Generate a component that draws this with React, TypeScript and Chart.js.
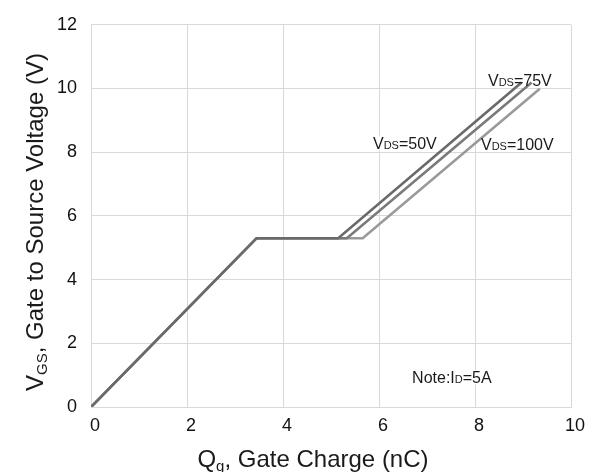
import React, { useEffect, useRef } from "react";
import { Chart, registerables } from "chart.js";
Chart.register(...registerables);

// ---- data ----
const xTicks = [0, 2, 4, 6, 8, 10];
const yTicks = [0, 2, 4, 6, 8, 10, 12];
const qg50 = [0, 3.45, 5.15, 8.97];
const vgs50 = [0, 5.3, 5.3, 10.19];
const qg75 = [0, 3.45, 5.33, 9.18];
const vgs75 = [0, 5.3, 5.3, 10.19];
const qg100 = [0, 3.45, 5.66, 9.35];
const vgs100 = [0, 5.3, 5.3, 9.99];

type Part = { t: string; s: number; dy?: number };
const FONT = "'Liberation Sans', Arial, Helvetica, sans-serif";

const annotations: { x: number; y: number; parts: Part[] }[] = [
  { x: 8.27, y: 10.09, parts: [{ t: "V", s: 16 }, { t: "DS", s: 11 }, { t: "=75V", s: 16 }] },
  { x: 5.875, y: 8.09, parts: [{ t: "V", s: 16 }, { t: "DS", s: 11 }, { t: "=50V", s: 16 }] },
  { x: 8.125, y: 8.06, parts: [{ t: "V", s: 16 }, { t: "DS", s: 11 }, { t: "=100V", s: 16 }] },
  { x: 6.69, y: 0.74, parts: [{ t: "Note:I", s: 16 }, { t: "D", s: 11 }, { t: "=5A", s: 16 }] },
];

const yTitle: Part[] = [
  { t: "V", s: 24 },
  { t: "GS", s: 15, dy: 4 },
  { t: ", Gate to Source Voltage (V)", s: 24 },
];
const xTitle: Part[] = [
  { t: "Q", s: 24 },
  { t: "g", s: 15, dy: 4 },
  { t: ", Gate Charge (nC)", s: 24 },
];

function measure(ctx: CanvasRenderingContext2D, parts: Part[]) {
  let w = 0;
  for (const p of parts) {
    ctx.font = `${p.s}px ${FONT}`;
    w += ctx.measureText(p.t).width;
  }
  return w;
}

function drawParts(ctx: CanvasRenderingContext2D, parts: Part[], x: number, y: number) {
  let cx = x;
  for (const p of parts) {
    ctx.font = `${p.s}px ${FONT}`;
    ctx.fillText(p.t, cx, y + (p.dy || 0));
    cx += ctx.measureText(p.t).width;
  }
}

const textPlugin = {
  id: "textPlugin",
  beforeDatasetsDraw(chart: any) {
    const ctx = chart.ctx as CanvasRenderingContext2D;
    const xs = chart.scales.x;
    const ys = chart.scales.y;
    ctx.save();
    ctx.fillStyle = "#ffffff";
    for (const a of annotations) {
      const px = xs.getPixelForValue(a.x);
      const py = ys.getPixelForValue(a.y);
      const w = measure(ctx, a.parts);
      ctx.fillRect(px - 2, py - 13, w + 4, 14);
    }
    ctx.restore();
  },
  afterDatasetsDraw(chart: any) {
    const ctx = chart.ctx as CanvasRenderingContext2D;
    const xs = chart.scales.x;
    const ys = chart.scales.y;
    ctx.save();
    ctx.fillStyle = "#1a1a1a";
    ctx.textBaseline = "alphabetic";
    ctx.textAlign = "left";
    for (const a of annotations) {
      const px = xs.getPixelForValue(a.x);
      const py = ys.getPixelForValue(a.y);
      drawParts(ctx, a.parts, px, py);
    }
    // x title
    const xw = measure(ctx, xTitle);
    const xc = (chart.chartArea.left + chart.chartArea.right) / 2 - 18;
    drawParts(ctx, xTitle, xc - xw / 2, 467);
    // y title
    const yw = measure(ctx, yTitle);
    ctx.translate(43, 222);
    ctx.rotate(-Math.PI / 2);
    drawParts(ctx, yTitle, -yw / 2, 0);
    ctx.restore();
  },
};

export default function App() {
  const ref = useRef<HTMLCanvasElement | null>(null);
  useEffect(() => {
    document.body.style.margin = "0";
    if (!ref.current) return;
    const mk = (label: string, xs: number[], ys: number[], color: string) => ({
      label,
      data: xs.map((x, i) => ({ x, y: ys[i] })),
      showLine: true,
      borderColor: color,
      backgroundColor: color,
      borderWidth: 2.6,
      pointRadius: 0,
      tension: 0,
      fill: false,
    });
    const chart = new Chart(ref.current, {
      type: "scatter",
      data: {
        datasets: [
          mk("VDS=50V", qg50, vgs50, "#6a6a6a"),
          mk("VDS=75V", qg75, vgs75, "#7a7a7a"),
          mk("VDS=100V", qg100, vgs100, "#9a9a9a"),
        ],
      },
      options: {
        animation: false,
        responsive: false,
        maintainAspectRatio: false,
        layout: { padding: { top: 18, right: 25, left: 0, bottom: 0 } },
        plugins: {
          legend: { display: false },
          tooltip: { enabled: false },
        },
        scales: {
          x: {
            type: "linear",
            min: 0,
            max: 10,
            afterBuildTicks: (s: any) => {
              s.ticks = xTicks.map((v) => ({ value: v }));
            },
            afterFit: (s: any) => {
              s.height = 65;
            },
            grid: { color: "#d9d9d9", lineWidth: 1, drawTicks: false },
            border: { color: "#d9d9d9" },
            ticks: {
              padding: 8,
              labelOffset: 4,
              maxRotation: 0,
              color: "#111111",
              font: { family: FONT, size: 18 },
            },
          },
          y: {
            type: "linear",
            min: 0,
            max: 12,
            afterBuildTicks: (s: any) => {
              s.ticks = yTicks.map((v) => ({ value: v }));
            },
            afterFit: (s: any) => {
              s.width = 91;
            },
            grid: { color: "#d9d9d9", lineWidth: 1, drawTicks: false },
            border: { color: "#d9d9d9" },
            ticks: {
              padding: 14,
              color: "#111111",
              font: { family: FONT, size: 18 },
            },
          },
        },
      },
      plugins: [textPlugin],
    } as any);
    return () => chart.destroy();
  }, []);
  return <canvas ref={ref} width={596} height={472} style={{ display: "block" }} />;
}
